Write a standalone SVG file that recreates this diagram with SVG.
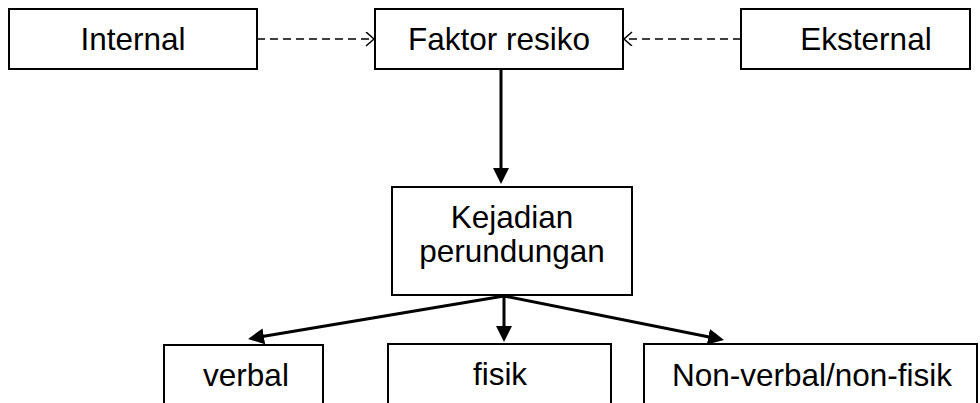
<svg xmlns="http://www.w3.org/2000/svg" width="980" height="403" viewBox="0 0 980 403">
<style>
.box{fill:#fff;stroke:#000;stroke-width:2}
.t{font-family:"Liberation Sans",Arial,sans-serif;font-size:31.5px;fill:#000;text-anchor:middle}
.dash{fill:none;stroke:#000;stroke-width:1.5;stroke-dasharray:8,5}
.solid{fill:none;stroke:#000;stroke-width:3}
</style>
<defs>
<marker id="open" markerUnits="userSpaceOnUse" markerWidth="12" markerHeight="16" refX="9" refY="7" orient="auto">
<path d="M1,0 L9,7 L1,14" fill="none" stroke="#000" stroke-width="1.5"/>
</marker>
<marker id="solid" markerUnits="userSpaceOnUse" markerWidth="18" markerHeight="16" refX="6" refY="8" orient="auto">
<path d="M0,0 L16,8 L0,16 z" fill="#000"/>
</marker>
</defs>
<g id="internal"><rect class="box" x="9" y="9" width="248" height="60"/><text class="t" x="133" y="50">Internal</text></g>
<g id="faktor"><rect class="box" x="375" y="9" width="248" height="60"/><text class="t" x="499" y="50">Faktor resiko</text></g>
<g id="eksternal"><rect class="box" x="741" y="9" width="229" height="60"/><text class="t" x="866" y="50">Eksternal</text></g>
<g id="kejadian"><rect class="box" x="392" y="187" width="240" height="108"/><text class="t" x="512" y="228">Kejadian</text><text class="t" x="512" y="262">perundungan</text></g>
<g id="verbal"><rect class="box" x="164" y="345" width="159" height="70"/><text class="t" x="246" y="386">verbal</text></g>
<g id="fisik"><rect class="box" x="388" y="344" width="223" height="70"/><text class="t" x="500" y="385">fisik</text></g>
<g id="nonverbal"><rect class="box" x="644" y="344" width="333" height="70"/><text class="t" x="812" y="386">Non-verbal/non-fisik</text></g>
<g id="connectors">
<path class="dash" d="M257,39 H374" marker-end="url(#open)"/>
<path class="dash" d="M741,39 H624" marker-end="url(#open)"/>
<path class="solid" d="M501,69 V174" marker-end="url(#solid)"/>
<path class="solid" d="M504,296 L257.9,337.3" marker-end="url(#solid)"/>
<path class="solid" d="M504,296 V332" marker-end="url(#solid)"/>
<path class="solid" d="M504,296 L714.2,338" marker-end="url(#solid)"/>
</g>
</svg>
